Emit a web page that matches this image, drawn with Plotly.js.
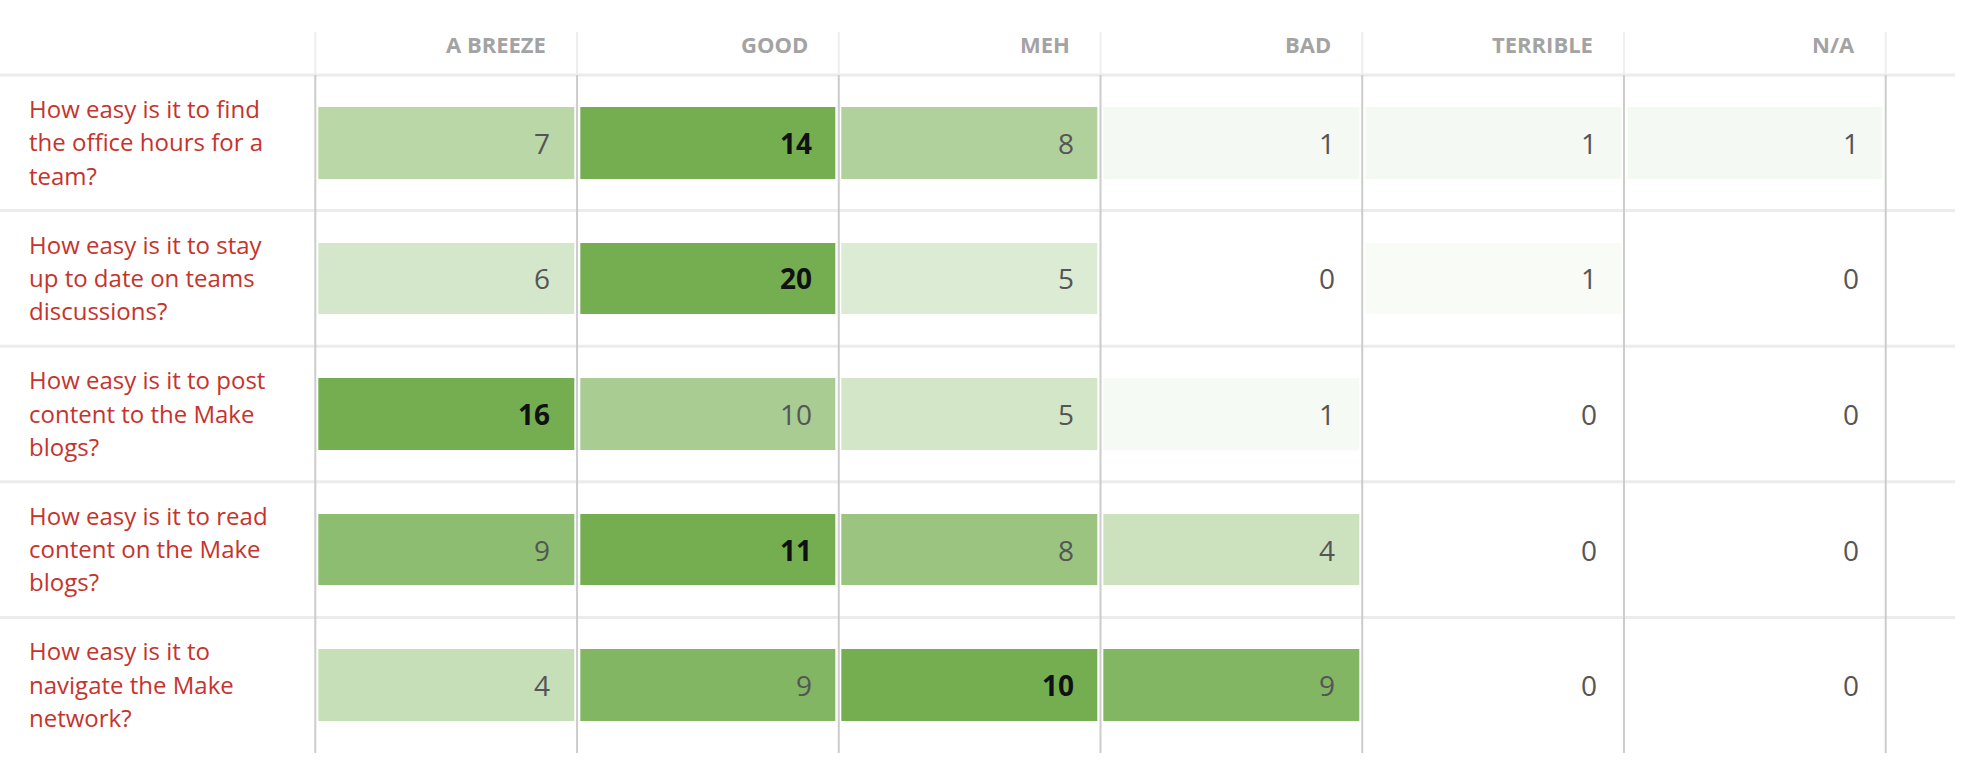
<!DOCTYPE html>
<html>
<head>
<meta charset="utf-8">
<script src="https://cdn.plot.ly/plotly-3.0.1.min.js"></script>
<style>html,body{margin:0;padding:0;background:#fff;}#chart{width:1962px;height:760px;}</style>
</head>
<body>
<div id="chart"></div>
<script>
// ---- data ----
const columns = ['A BREEZE', 'GOOD', 'MEH', 'BAD', 'TERRIBLE', 'N/A'];
const questions = [
  'How easy is it to find<br>the office hours for a<br>team?',
  'How easy is it to stay<br>up to date on teams<br>discussions?',
  'How easy is it to post<br>content to the Make<br>blogs?',
  'How easy is it to read<br>content on the Make<br>blogs?',
  'How easy is it to<br>navigate the Make<br>network?'
];
const aBreeze  = [7, 6, 16, 9, 4];
const good     = [14, 20, 10, 11, 9];
const meh      = [8, 5, 5, 8, 10];
const bad      = [1, 0, 1, 4, 9];
const terrible = [1, 1, 0, 0, 0];
const na       = [1, 0, 0, 0, 0];

// ---- build ----
const series = [aBreeze, good, meh, bad, terrible, na];
const nRows = questions.length, nCols = columns.length;
const values = questions.map((q, r) => series.map(s => s[r]));
const rowMax = values.map(row => Math.max(...row));
const zNorm = values.map((row, r) => row.map(v => v / rowMax[r]));
const xs = columns.map((c, i) => i);
const ys = questions.map((q, i) => i);

const COLW = 261.73, ROWH = 135.6;
const xRange = [-0.5 - 315.3 / COLW, 5.5 + (1962 - 1885.7) / COLW];
const yTop = -0.5 - 75 / ROWH;
const yBottom = -0.5 + (760 - 75) / ROWH;

const heat = {
  type: 'heatmap', x: xs, y: ys, z: zNorm,
  zmin: 0, zmax: 1,
  colorscale: [[0, '#ffffff'], [1, '#74ae50']],
  showscale: false, xgap: 6, ygap: 64, hoverinfo: 'skip'
};

const annotations = [];
// header labels
columns.forEach((c, i) => {
  annotations.push({
    x: i + 0.5, y: yTop + 44 / ROWH, xref: 'x', yref: 'y',
    text: c, showarrow: false, xanchor: 'right', yanchor: 'middle', xshift: -29,
    font: {family: 'Open Sans', size: 22, color: '#a3a3a3', weight: 700}
  });
});
// numbers
values.forEach((row, r) => {
  row.forEach((v, c) => {
    const isMax = v === rowMax[r];
    annotations.push({
      x: c + 0.5, y: r, xref: 'x', yref: 'y',
      text: String(v), showarrow: false, xanchor: 'right', yanchor: 'middle', xshift: -25,
      font: {family: 'Open Sans', size: 28, color: isMax ? '#111111' : '#555555', weight: isMax ? 700 : 400}
    });
  });
});
// row labels (one annotation per wrapped line)
questions.forEach((q, r) => {
  const lines = q.split('<br>');
  lines.forEach((ln, j) => {
    annotations.push({
      x: xRange[0], y: r, xref: 'x', yref: 'y',
      text: ln, showarrow: false, xanchor: 'left', yanchor: 'middle',
      xshift: 27, yshift: -(j - (lines.length - 1) / 2) * 33.3 + 1,
      font: {family: 'Open Sans', size: 24, color: '#c6332c'}
    });
  });
});

const shapes = [];
// horizontal separators
for (let r = 0; r < nRows; r++) {
  shapes.push({type: 'line', xref: 'paper', yref: 'y', x0: 0, x1: 1955 / 1962, y0: r - 0.5, y1: r - 0.5,
    line: {color: '#ececec', width: 3}, layer: 'above'});
}
// vertical separators
for (let c = 0; c <= nCols; c++) {
  shapes.push({type: 'line', xref: 'x', yref: 'y', x0: c - 0.5, x1: c - 0.5, y0: yTop + 32 / ROWH, y1: -0.5,
    line: {color: '#eeeeee', width: 2}, layer: 'above'});
  shapes.push({type: 'line', xref: 'x', yref: 'y', x0: c - 0.5, x1: c - 0.5, y0: -0.5, y1: nRows - 0.5,
    line: {color: '#cccccc', width: 2}, layer: 'above'});
}

const layout = {
  width: 1962, height: 760,
  margin: {l: 0, r: 0, t: 0, b: 0, pad: 0},
  paper_bgcolor: '#ffffff', plot_bgcolor: '#ffffff',
  xaxis: {range: xRange, showgrid: false, zeroline: false, showticklabels: false, fixedrange: true},
  yaxis: {range: [yBottom, yTop], showgrid: false, zeroline: false, showticklabels: false, fixedrange: true},
  annotations: annotations, shapes: shapes, showlegend: false,
  font: {family: 'Open Sans'}
};

Plotly.newPlot('chart', [heat], layout, {displayModeBar: false, staticPlot: true});
</script>
</body>
</html>
